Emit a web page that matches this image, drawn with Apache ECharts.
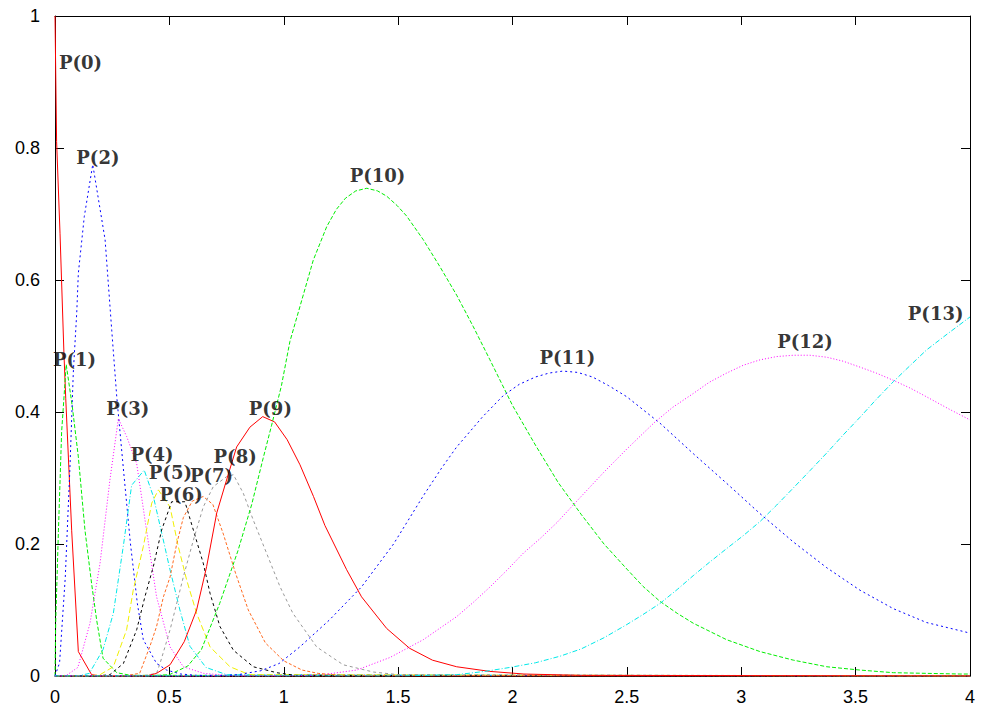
<!DOCTYPE html>
<html>
<head>
<meta charset="utf-8">
<script src="https://cdn.jsdelivr.net/npm/echarts@6/dist/echarts.min.js"></script>
<style>
  html, body { margin: 0; padding: 0; background: #fff; }
  #chart { width: 981px; height: 710px; }
</style>
</head>
<body>
<div id="chart"></div>
<script>
// tick labels
var xTicks = [0, 0.5, 1, 1.5, 2, 2.5, 3, 3.5, 4];
var yTicks = [0, 0.2, 0.4, 0.6, 0.8, 1];

// curves P(0)..P(13), [x, y]
var p0 = [[0,1],[0.007,0.81],[0.022,0.67],[0.039,0.49],[0.047,0.42],[0.073,0.22],[0.102,0.037],[0.16,0.002],[0.2,0],[4,0]];
var p1 = [[0,0],[0.003,0.08],[0.015,0.22],[0.029,0.37],[0.049,0.472],[0.075,0.41],[0.102,0.332],[0.131,0.221],[0.16,0.14],[0.182,0.085],[0.21,0.027],[0.27,0.005],[0.33,0.001],[4,0]];
var p2 = [[0,0],[0.02,0.02],[0.045,0.15],[0.066,0.322],[0.08,0.46],[0.095,0.55],[0.102,0.61],[0.128,0.696],[0.165,0.775],[0.219,0.661],[0.248,0.524],[0.27,0.423],[0.3,0.31],[0.33,0.2],[0.36,0.11],[0.386,0.055],[0.444,0.019],[0.488,0.009],[0.55,0.003],[0.62,0.001],[4,0]];
var p3 = [[0,0],[0.05,0.001],[0.1,0.013],[0.153,0.08],[0.197,0.171],[0.24,0.297],[0.277,0.39],[0.313,0.363],[0.357,0.322],[0.4,0.221],[0.444,0.12],[0.503,0.044],[0.561,0.014],[0.65,0.004],[0.75,0.001],[4,0]];
var p4 = [[0,0],[0.1,0],[0.15,0.004],[0.21,0.04],[0.255,0.095],[0.3,0.2],[0.335,0.289],[0.39,0.312],[0.43,0.272],[0.48,0.196],[0.5,0.165],[0.546,0.1],[0.59,0.045],[0.66,0.013],[0.75,0.002],[4,0]];
var p5 = [[0,0],[0.15,0],[0.197,0.002],[0.255,0.014],[0.313,0.07],[0.342,0.13],[0.386,0.196],[0.423,0.262],[0.452,0.282],[0.503,0.256],[0.539,0.196],[0.576,0.145],[0.619,0.095],[0.678,0.044],[0.765,0.014],[0.85,0.002],[4,0]];
var p6 = [[0,0],[0.18,0],[0.24,0.002],[0.299,0.019],[0.357,0.07],[0.393,0.12],[0.43,0.166],[0.466,0.221],[0.51,0.264],[0.568,0.264],[0.605,0.221],[0.648,0.171],[0.678,0.125],[0.721,0.075],[0.78,0.039],[0.867,0.014],[0.969,0.005],[1.05,0.001],[4,0]];
var p7 = [[0,0],[0.3,0],[0.37,0.004],[0.415,0.045],[0.444,0.075],[0.474,0.12],[0.503,0.15],[0.532,0.2],[0.561,0.24],[0.6,0.265],[0.648,0.272],[0.69,0.26],[0.736,0.215],[0.79,0.155],[0.845,0.1],[0.92,0.05],[1.0,0.023],[1.08,0.009],[1.15,0.004],[1.25,0.001],[4,0]];
var p8 = [[0,0],[0.38,0],[0.444,0.004],[0.46,0.02],[0.503,0.07],[0.561,0.15],[0.605,0.206],[0.648,0.256],[0.692,0.287],[0.75,0.302],[0.78,0.305],[0.823,0.277],[0.867,0.236],[0.925,0.186],[0.984,0.135],[1.04,0.095],[1.144,0.044],[1.26,0.017],[1.392,0.006],[1.5,0.002],[4,0]];
var p9 = [[0,0],[0.4,0],[0.444,0.004],[0.503,0.017],[0.565,0.052],[0.619,0.1],[0.663,0.166],[0.707,0.247],[0.75,0.297],[0.794,0.347],[0.852,0.377],[0.908,0.393],[0.96,0.385],[1.015,0.358],[1.071,0.32],[1.13,0.272],[1.18,0.228],[1.275,0.161],[1.34,0.12],[1.45,0.072],[1.55,0.042],[1.65,0.024],[1.756,0.014],[1.9,0.007],[2.05,0.003],[2.3,0.001],[4,0]];
var p10 = [[0,0],[0.4,0],[0.5,0.002],[0.58,0.015],[0.64,0.04],[0.72,0.11],[0.8,0.19],[0.86,0.26],[0.91,0.33],[0.947,0.38],[0.99,0.44],[1.027,0.507],[1.071,0.56],[1.129,0.63],[1.188,0.681],[1.23,0.707],[1.27,0.724],[1.315,0.735],[1.363,0.739],[1.41,0.735],[1.45,0.727],[1.495,0.713],[1.537,0.697],[1.61,0.661],[1.683,0.62],[1.756,0.577],[1.829,0.529],[1.9,0.48],[1.95,0.445],[2.0,0.41],[2.1,0.35],[2.2,0.293],[2.3,0.245],[2.4,0.2],[2.5,0.162],[2.57,0.136],[2.645,0.113],[2.72,0.095],[2.79,0.08],[2.936,0.055],[3.082,0.037],[3.228,0.024],[3.374,0.014],[3.519,0.009],[3.665,0.005],[3.956,0.003],[4,0.003]];
var p11 = [[0,0],[0.7,0],[0.8,0.002],[0.9,0.008],[0.98,0.019],[1.07,0.044],[1.2,0.085],[1.34,0.135],[1.48,0.2],[1.61,0.273],[1.69,0.315],[1.756,0.347],[1.87,0.393],[1.96,0.425],[2.03,0.442],[2.1,0.453],[2.16,0.459],[2.22,0.462],[2.285,0.46],[2.35,0.453],[2.42,0.44],[2.5,0.423],[2.645,0.383],[2.79,0.337],[2.936,0.292],[3.082,0.246],[3.228,0.203],[3.374,0.164],[3.519,0.13],[3.665,0.102],[3.81,0.081],[4,0.065]];
var p12 = [[0,0],[1.0,0],[1.17,0.002],[1.319,0.009],[1.464,0.028],[1.61,0.055],[1.756,0.09],[1.83,0.112],[1.902,0.135],[1.975,0.16],[2.047,0.186],[2.12,0.208],[2.193,0.232],[2.3,0.272],[2.4,0.309],[2.5,0.344],[2.62,0.384],[2.7,0.407],[2.79,0.428],[2.86,0.445],[2.936,0.459],[3.01,0.471],[3.082,0.479],[3.155,0.484],[3.228,0.486],[3.3,0.486],[3.374,0.483],[3.445,0.477],[3.519,0.468],[3.59,0.459],[3.665,0.448],[3.74,0.436],[3.81,0.423],[3.9,0.406],[4,0.388]];
var p13 = [[0,0],[1.5,0],[1.756,0.002],[1.88,0.007],[1.989,0.013],[2.1,0.02],[2.208,0.03],[2.3,0.041],[2.4,0.058],[2.5,0.078],[2.57,0.093],[2.645,0.11],[2.72,0.131],[2.79,0.152],[2.86,0.172],[2.936,0.193],[3.01,0.213],[3.082,0.234],[3.155,0.259],[3.228,0.285],[3.3,0.311],[3.374,0.338],[3.445,0.365],[3.519,0.392],[3.59,0.419],[3.665,0.446],[3.74,0.471],[3.81,0.494],[3.9,0.518],[4,0.544]];

var curves = [p0, p1, p2, p3, p4, p5, p6, p7, p8, p9, p10, p11, p12, p13];
var names = ["P(0)", "P(1)", "P(2)", "P(3)", "P(4)", "P(5)", "P(6)", "P(7)", "P(8)", "P(9)", "P(10)", "P(11)", "P(12)", "P(13)"];
// where each label sits (left edge, middle), in data units
var labelAt = [[0.017,0.929],[-0.009,0.479],[0.093,0.785],[0.224,0.406],[0.330,0.336],[0.410,0.308],[0.457,0.275],[0.590,0.304],[0.693,0.332],[0.847,0.406],[1.288,0.758],[2.118,0.482],[3.157,0.507],[3.728,0.550]];

// gnuplot-ish line styles, 9 of them, cycling
var colors = ["#ff0000", "#00ee00", "#0000ff", "#ff00ff", "#00e8e8", "#f0f000", "#000000", "#ff6a20", "#999999"];
var dashes = ["solid", [4, 2], [2, 3], [1, 2], [5, 2, 1, 2], [6, 3], [3, 3], [3, 2], [3, 3]];

var chart = echarts.init(document.getElementById("chart"), null, { renderer: "svg" });

var series = curves.map(function (c, i) {
  return {
    name: names[i],
    type: "line",
    data: c,
    showSymbol: false,
    symbol: "none",
    lineStyle: { color: colors[i % 9], width: 1, type: dashes[i % 9] },
    z: 2
  };
});
series.push({
  type: "scatter",
  clip: false,
  symbolSize: 0.1,
  itemStyle: { color: "transparent" },
  data: labelAt.map(function (p, i) { return { value: p, name: names[i] }; }),
  label: {
    show: true,
    position: "right",
    distance: 0,
    formatter: "{b}",
    fontFamily: "DejaVu Serif",
    fontWeight: "bold",
    fontSize: 18,
    lineHeight: 16,
    color: "#000"
  },
  z: 5
});

var axisCommon = {
  type: "value",
  axisLine: { show: true, onZero: false, lineStyle: { color: "#000", width: 1 } },
  axisTick: { show: true, inside: true, length: 9, lineStyle: { color: "#000", width: 1 } },
  splitLine: { show: false }
};

var option = {
  animation: false,
  backgroundColor: "#fff",
  grid: { left: 55, right: 11, top: 16, bottom: 34 },
  xAxis: [
    Object.assign({}, axisCommon, {
      position: "bottom", min: xTicks[0], max: xTicks[xTicks.length - 1], interval: 0.5,
      axisLabel: { color: "#000", fontSize: 18, fontFamily: "Liberation Sans", margin: 12 }
    }),
    Object.assign({}, axisCommon, {
      position: "top", min: xTicks[0], max: xTicks[xTicks.length - 1], interval: 0.5,
      axisLabel: { show: false }
    })
  ],
  yAxis: [
    Object.assign({}, axisCommon, {
      position: "left", min: yTicks[0], max: yTicks[yTicks.length - 1], interval: 0.2,
      axisLabel: { color: "#000", fontSize: 18, fontFamily: "Liberation Sans", margin: 15 }
    }),
    Object.assign({}, axisCommon, {
      position: "right", min: yTicks[0], max: yTicks[yTicks.length - 1], interval: 0.2,
      axisLabel: { show: false }
    })
  ],
  series: series
};

chart.setOption(option);
</script>
</body>
</html>
